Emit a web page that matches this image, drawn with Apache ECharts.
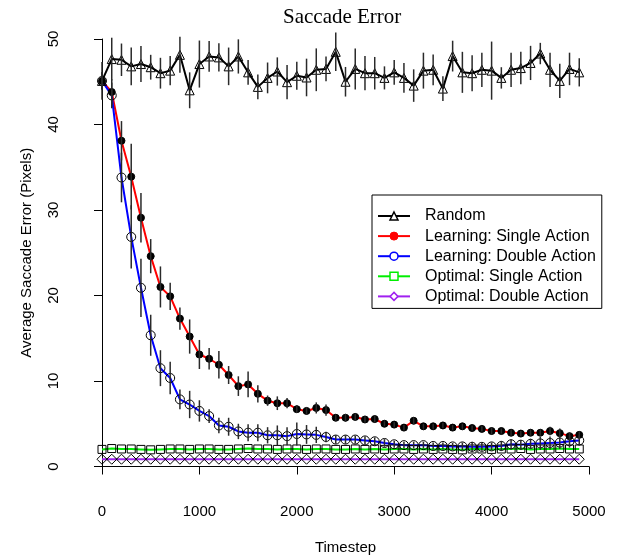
<!DOCTYPE html>
<html>
<head>
<meta charset="utf-8">
<script src="https://cdn.jsdelivr.net/npm/echarts@6/dist/echarts.min.js"></script>
<style>html,body{margin:0;padding:0;background:#fff}#c{width:623px;height:560px}</style>
</head>
<body>
<div id="c"></div>
<script>
var timesteps = [0,100,200,300,400,500,600,700,800,900,1000,1100,1200,1300,1400,1500,1600,1700,1800,1900,2000,2100,2200,2300,2400,2500,2600,2700,2800,2900,3000,3100,3200,3300,3400,3500,3600,3700,3800,3900,4000,4100,4200,4300,4400,4500,4600,4700,4800,4900];
var xTicks = [0,1000,2000,3000,4000,5000];
var yTicks = [0,10,20,30,40,50];

var randomVals = [45.1,47.65,47.57,46.8,47.07,46.7,46.0,46.3,48.15,44.0,
  47.07,47.96,47.85,46.8,47.96,46.1,44.4,45.45,46.2,44.95,
  45.7,45.5,46.4,46.5,48.5,45.0,46.5,46.0,46.0,45.45,
  46.1,45.45,44.55,46.3,46.4,44.2,48.0,46.1,46.0,46.4,
  46.3,45.45,46.4,46.6,47.2,48.3,46.4,45.1,46.5,46.1];
var randomErr = [2.2,2.5,1.9,2.2,2.1,1.45,1.8,1.7,2.1,2.1,
  2.75,1.8,1.65,2.2,2.0,1.45,1.45,1.8,1.65,2.0,
  1.65,2.2,2.5,1.45,2.25,1.73,2.4,2.0,1.9,1.35,
  1.45,1.73,1.9,2.1,1.8,1.45,1.8,2.4,2.1,2.0,
  3.4,1.25,2.0,1.9,2.0,1.25,2.0,2.0,1.9,1.65];

var singleVals = [45.1,43.8,38.1,33.9,29.1,24.6,21.0,19.9,17.3,15.2,
  13.1,12.6,11.9,10.7,9.4,9.6,8.5,7.7,7.4,7.4,
  6.7,6.5,6.85,6.6,5.7,5.7,5.8,5.5,5.55,5.0,
  4.9,4.55,5.35,4.7,4.7,4.8,4.55,4.7,4.5,4.4,
  4.15,4.15,3.95,3.85,3.95,3.95,4.15,3.9,3.55,3.7];
var singleErr = [1.0,1.5,2.3,3.85,2.9,2.0,2.4,1.6,1.3,2.0,
  1.7,1.25,1.6,1.05,1.15,1.5,1.0,0.6,0.8,0.6,
  0.45,0.45,0.65,0.65,0.35,0.45,0.35,0.35,0.35,0.3,
  0.3,0.3,0.4,0.3,0.3,0.3,0.3,0.3,0.3,0.3,
  0.35,0.3,0.35,0.3,0.35,0.35,0.5,0.55,0.4,0.4];

var doubleVals = [45.1,43.4,33.8,26.85,20.9,15.35,11.5,10.35,7.85,7.25,
  6.5,5.9,4.8,4.65,4.1,3.95,3.95,3.65,3.65,3.55,
  3.8,3.75,3.7,3.45,3.15,3.15,3.15,3.05,2.95,2.75,
  2.6,2.5,2.5,2.5,2.4,2.4,2.35,2.35,2.3,2.3,
  2.35,2.4,2.6,2.55,2.65,2.7,2.75,2.8,2.95,3.05];
var doubleErr = [1.0,1.5,2.9,3.7,3.4,2.4,2.1,1.9,1.15,1.6,
  1.25,0.8,0.9,1.05,0.9,1.0,1.0,0.95,1.15,1.05,
  1.35,1.1,0.95,0.6,0.5,0.5,0.45,0.45,0.45,0.45,
  0.4,0.4,0.4,0.4,0.4,0.4,0.4,0.45,0.6,0.45,
  0.45,0.6,0.6,0.55,0.6,0.75,0.75,0.75,0.75,0.6];

var optSingleVals = [2.0,2.1,2.05,2.05,2.0,1.95,2.0,2.05,2.05,2.0,
  2.05,2.05,2.0,2.0,2.05,2.1,2.05,2.05,2.0,2.05,
  2.05,2.0,2.05,2.05,2.0,2.0,2.05,2.0,2.05,2.0,
  2.05,2.05,2.0,2.05,2.0,2.05,2.0,1.95,2.05,2.05,
  2.0,2.05,2.05,2.1,2.0,2.05,2.05,2.1,2.05,2.05];
var optDoubleVals = [0.85,0.85,0.85,0.85,0.85,0.85,0.85,0.85,0.85,0.85,
  0.85,0.85,0.85,0.85,0.85,0.85,0.85,0.85,0.85,0.85,
  0.85,0.85,0.85,0.85,0.85,0.85,0.85,0.85,0.85,0.85,
  0.85,0.85,0.85,0.85,0.85,0.85,0.85,0.85,0.85,0.85,
  0.85,0.85,0.85,0.85,0.85,0.85,0.85,0.85,0.85,0.85];

var names = ['Random','Learning: Single Action','Learning: Double Action','Optimal: Single Action','Optimal: Double Action'];

var SANS = 'Liberation Sans, Arial, sans-serif';

function pairs(vals){ return timesteps.map(function(t,i){ return [t, vals[i]]; }); }

function errSeries(vals, errs){
  return {
    type:'custom', silent:true, z:5, clip:false,
    data: timesteps.map(function(t,i){ return [t, vals[i]-errs[i], vals[i]+errs[i]]; }),
    encode:{x:0, y:[1,2]},
    renderItem:function(params, api){
      var a = api.coord([api.value(0), api.value(1)]);
      var b = api.coord([api.value(0), api.value(2)]);
      return {type:'line', shape:{x1:a[0], y1:a[1], x2:b[0], y2:b[1]}, style:{stroke:'#2a2a2a', lineWidth:1.5}};
    }
  };
}

function lineSeries(name, vals, color, symbol, size, fill){
  return {
    name:name, type:'line', data:pairs(vals), clip:false, z:3,
    symbol:symbol, symbolSize:size, showAllSymbol:true,
    lineStyle:{color:color, width:2},
    itemStyle:{color:fill, borderColor:'#000', borderWidth:1},
    emphasis:{disabled:true}, animation:false
  };
}

var chart = echarts.init(document.getElementById('c'), null, {renderer:'canvas'});
chart.setOption({
  animation:false,
  backgroundColor:'#fff',
  title:{text:'Saccade Error', left:278, top:2,
    textStyle:{fontFamily:'Liberation Serif, Times New Roman, serif', fontWeight:'normal', fontSize:21, color:'#000'}},
  grid:{left:102, right:34, top:39, bottom:88.5, containLabel:false},
  xAxis:{type:'value', min:0, max:5000, interval:1000, offset:18.5,
    axisLine:{show:true, lineStyle:{color:'#000', width:1}},
    axisTick:{show:true, length:8, lineStyle:{color:'#000', width:1}},
    axisLabel:{color:'#000', fontSize:15, fontFamily:SANS, margin:19, customValues:xTicks,
      formatter:function(v){ return String(v); }},
    splitLine:{show:false},
    name:'Timestep', nameLocation:'middle', nameGap:55,
    nameTextStyle:{color:'#000', fontSize:15, fontFamily:SANS}},
  yAxis:{type:'value', min:0, max:50, interval:10, offset:20,
    axisLine:{show:true, lineStyle:{color:'#000', width:1}},
    axisTick:{show:true, length:8, lineStyle:{color:'#000', width:1}},
    axisLabel:{color:'#000', fontSize:15, fontFamily:SANS, margin:21, rotate:90, customValues:yTicks,
      formatter:function(v){ return String(v); }},
    splitLine:{show:false},
    name:'Average Saccade Error (Pixels)', nameLocation:'middle', nameGap:48,
    nameTextStyle:{color:'#000', fontSize:15, fontFamily:SANS}},
  legend:{orient:'vertical', left:372, top:195, itemWidth:32, itemHeight:10, itemGap:4.1,
    padding:[13,6,4,5], borderColor:'#000', borderWidth:1, borderRadius:0,
    selectedMode:false,
    textStyle:{fontSize:16, color:'#000', fontFamily:SANS, lineHeight:14, padding:[0,0,0,10]},
    data:[
      {name:names[0], itemStyle:{color:'#fff', borderColor:'#000', borderWidth:1.5}, lineStyle:{color:'#000', width:2}},
      {name:names[1], itemStyle:{color:'#ff0000', borderColor:'#ff0000', borderWidth:1}, lineStyle:{color:'#ff0000', width:2}},
      {name:names[2], itemStyle:{color:'#fff', borderColor:'#0000ff', borderWidth:1.5}, lineStyle:{color:'#0000ff', width:2}},
      {name:names[3], itemStyle:{color:'#fff', borderColor:'#00ee00', borderWidth:1.5}, lineStyle:{color:'#00ee00', width:2}},
      {name:names[4], itemStyle:{color:'#fff', borderColor:'#a020f0', borderWidth:1.5}, lineStyle:{color:'#a020f0', width:2}}
    ]},
  series:[
    lineSeries(names[0], randomVals, '#000', 'triangle', 9, 'rgba(255,255,255,0)'),
    lineSeries(names[1], singleVals, '#ff0000', 'circle', 7, '#000'),
    lineSeries(names[2], doubleVals, '#0000ff', 'circle', 9, 'rgba(255,255,255,0)'),
    lineSeries(names[3], optSingleVals, '#00ee00', 'rect', 8, 'rgba(255,255,255,0)'),
    lineSeries(names[4], optDoubleVals, '#a020f0', 'diamond', 10, 'rgba(255,255,255,0)'),
    errSeries(randomVals, randomErr),
    errSeries(singleVals, singleErr),
    errSeries(doubleVals, doubleErr)
  ]
});
</script>
</body>
</html>
